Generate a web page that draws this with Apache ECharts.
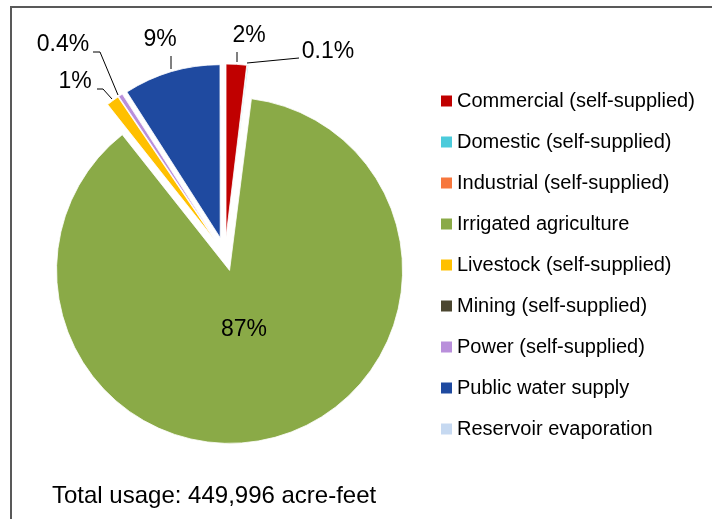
<!DOCTYPE html>
<html>
<head>
<meta charset="utf-8">
<script src="https://cdn.jsdelivr.net/npm/echarts@6/dist/echarts.min.js"></script>
<style>
  html, body { margin: 0; padding: 0; background: #ffffff; }
  #chart { width: 712px; height: 519px; }
</style>
</head>
<body>
<div id="chart"></div>
<script>
// Water use by category, acre-feet
const categories = [
  'Commercial (self-supplied)',
  'Domestic (self-supplied)',
  'Industrial (self-supplied)',
  'Irrigated agriculture',
  'Livestock (self-supplied)',
  'Mining (self-supplied)',
  'Power (self-supplied)',
  'Public water supply',
  'Reservoir evaporation'
];
const usageAcreFeet = [8600, 450, 30, 393000, 5300, 20, 1800, 40700, 96];
const sliceColors = [
  '#C00000', '#4BCBDB', '#F7773D', '#8AAA47', '#FFC000',
  '#4B4630', '#B98FDB', '#1F4AA0', '#C6D9F1'
];
const totalText = 'Total usage: 449,996 acre-feet';

const total = usageAcreFeet.reduce((a, b) => a + b, 0);
const FONT = 'Liberation Sans, Arial, sans-serif';

function pctText(v) {
  const p = v / total * 100;
  return p >= 1 ? Math.round(p) + '%' : p.toFixed(1) + '%';
}

// Percentage label placement and leader lines (rim point first)
const labelSpots = {
  'Commercial (self-supplied)': { at: [249, 36], line: [[237, 62], [237, 52]] },
  'Domestic (self-supplied)':   { at: [328, 52], line: [[247, 63], [299, 58]] },
  'Irrigated agriculture':      { at: [244, 330] },
  'Livestock (self-supplied)':  { at: [75, 82],  line: [[112, 99], [103, 89], [97, 89]] },
  'Power (self-supplied)':      { at: [63, 45],  line: [[118, 95], [100, 52], [93, 52]] },
  'Public water supply':        { at: [160, 40], line: [[171, 69], [171, 56]] }
};

const pieData = categories.map((name, i) => ({
  name: name,
  value: usageAcreFeet[i],
  selected: true,
  itemStyle: { color: sliceColors[i] }
}));

// Label texts come straight from the values
const labelGraphics = [];
categories.forEach((name, i) => {
  const spot = labelSpots[name];
  if (!spot) return;
  if (spot.line) {
    labelGraphics.push({
      type: 'polyline',
      silent: true,
      z: 100,
      shape: { points: spot.line },
      style: { stroke: '#000000', lineWidth: 1, fill: null }
    });
  }
  labelGraphics.push({
    type: 'text',
    silent: true,
    z: 100,
    x: spot.at[0],
    y: spot.at[1],
    style: {
      text: pctText(usageAcreFeet[i]),
      x: 0,
      y: 0,
      align: 'center',
      verticalAlign: 'middle',
      fontFamily: FONT,
      fontSize: 23,
      fill: '#000000'
    }
  });
});

const chart = echarts.init(document.getElementById('chart'), null, { renderer: 'canvas' });

chart.setOption({
  animation: false,
  backgroundColor: '#ffffff',
  legend: {
    orient: 'vertical',
    left: 441,
    top: 91,
    padding: 0,
    icon: 'rect',
    itemWidth: 11,
    itemHeight: 11,
    itemGap: 21,
    selectedMode: false,
    data: categories,
    itemStyle: { borderWidth: 0 },
    textStyle: {
      fontFamily: FONT,
      fontSize: 20,
      lineHeight: 20,
      color: '#000000'
    }
  },
  graphic: [
    {
      type: 'rect',
      silent: true,
      shape: { x: 11, y: 7, width: 740, height: 560 },
      style: { fill: 'none', stroke: '#595959', lineWidth: 2 }
    },
    {
      type: 'text',
      silent: true,
      left: 52,
      top: 484,
      style: {
        text: totalText,
        fontFamily: FONT,
        fontSize: 24,
        fill: '#000000'
      }
    }
  ].concat(labelGraphics),
  series: [
    {
      type: 'pie',
      center: [225, 254],
      radius: 173,
      startAngle: 90,
      clockwise: true,
      selectedMode: 'multiple',
      selectedOffset: 17,
      emphasis: { disabled: true },
      itemStyle: { borderColor: '#ffffff', borderWidth: 0.8 },
      label: { show: false },
      labelLine: { show: false },
      data: pieData
    }
  ]
});
</script>
</body>
</html>
